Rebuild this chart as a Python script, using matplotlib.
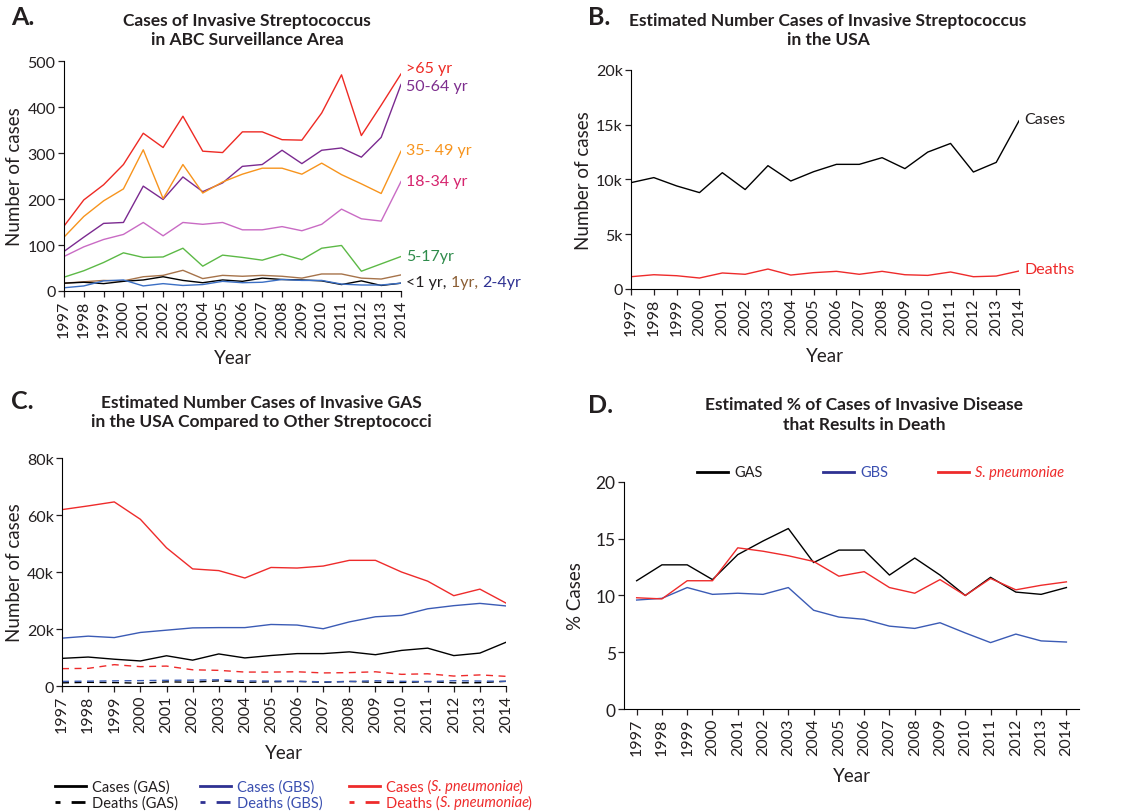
import matplotlib
matplotlib.use("Agg")
import matplotlib.pyplot as plt
from matplotlib.lines import Line2D

plt.rcParams['font.family'] = ['Lato', 'DejaVu Sans']

years = list(range(1997, 2015))

# ABC surveillance area cases by age group
age_65 = [141, 198, 231, 275, 343, 312, 380, 304, 301, 346, 346, 329, 328, 387, 470, 338, 404, 472]
age_50_64 = [86, 117, 147, 149, 228, 199, 248, 216, 235, 271, 275, 306, 277, 306, 311, 291, 334, 449]
age_35_49 = [117, 162, 196, 222, 307, 201, 275, 213, 237, 254, 267, 267, 254, 278, 253, 233, 212, 304]
age_18_34 = [75, 96, 112, 123, 149, 120, 149, 145, 149, 133, 133, 140, 131, 145, 178, 157, 152, 238]
age_5_17 = [30, 44, 62, 83, 73, 74, 93, 54, 78, 73, 67, 80, 68, 93, 99, 43, 59, 75]
age_lt1 = [17, 19, 16, 21, 24, 31, 23, 18, 24, 21, 28, 25, 24, 22, 14, 22, 12, 17]
age_1 = [17, 20, 23, 22, 31, 34, 45, 27, 34, 32, 34, 32, 28, 37, 37, 28, 26, 35]
age_2_4 = [7, 11, 22, 24, 11, 16, 12, 14, 21, 18, 19, 25, 23, 23, 15, 13, 13, 17]

# estimated national numbers (thousands)
gas_cases = [9.71, 10.17, 9.41, 8.80, 10.62, 9.08, 11.26, 9.86, 10.71, 11.38, 11.38, 11.99, 10.99, 12.50, 13.29, 10.68, 11.56, 15.36]
gas_deaths = [1.12, 1.30, 1.21, 1.00, 1.46, 1.34, 1.82, 1.27, 1.49, 1.61, 1.34, 1.61, 1.30, 1.24, 1.55, 1.12, 1.18, 1.64]
gbs_cases = [16.8, 17.5, 17.0, 18.8, 19.6, 20.4, 20.5, 20.5, 21.6, 21.4, 20.1, 22.5, 24.3, 24.8, 27.1, 28.2, 29.0, 28.1]
gbs_deaths = [1.63, 1.71, 1.82, 1.90, 2.00, 2.06, 2.19, 1.78, 1.75, 1.69, 1.47, 1.60, 1.85, 1.66, 1.57, 1.86, 1.74, 1.66]
spn_cases = [61.9, 63.2, 64.6, 58.5, 48.5, 41.1, 40.5, 37.9, 41.6, 41.4, 42.1, 44.1, 44.1, 40.0, 36.8, 31.7, 34.0, 29.1]
spn_deaths = [6.1, 6.2, 7.5, 6.8, 7.0, 5.7, 5.5, 4.9, 4.9, 5.0, 4.6, 4.7, 5.0, 4.1, 4.3, 3.5, 3.9, 3.4]

# case fatality (%)
gas_pct = [11.3, 12.7, 12.7, 11.4, 13.6, 14.8, 15.9, 12.9, 14.0, 14.0, 11.8, 13.3, 11.8, 10.0, 11.6, 10.3, 10.1, 10.7]
gbs_pct = [9.6, 9.75, 10.7, 10.1, 10.2, 10.1, 10.7, 8.7, 8.1, 7.9, 7.3, 7.1, 7.6, 6.7, 5.85, 6.6, 6.0, 5.9]
spn_pct = [9.8, 9.7, 11.3, 11.3, 14.2, 13.9, 13.5, 13.0, 11.7, 12.1, 10.7, 10.2, 11.4, 10.0, 11.5, 10.5, 10.9, 11.2]

RED = '#ee2b2b'
BLUE = '#3b5bb5'
LEG_BLUE = '#2e3192'
TXT_BLUE = '#3a4fb0'
LW = 1.0
TEXT = '#231f20'
W, H = 1128, 812


def style_axis(ax):
    ax.spines['top'].set_visible(False)
    ax.spines['right'].set_visible(False)
    ax.tick_params(direction='out', length=4, width=0.9, labelsize=11.5, colors=TEXT, pad=2)
    ax.set_xticks(years)
    ax.set_xticklabels([str(y) for y in years], rotation=90)
    ax.set_xlabel('Year', fontsize=13.5, color=TEXT, labelpad=9)


def k_fmt(v, pos):
    return '0' if v == 0 else '%dk' % (v / 1000)


fig = plt.figure(figsize=(11.28, 8.12), dpi=100)
renderer = fig.canvas.get_renderer()


def key_entry(x0, y, color, ls, text_color, parts):
    # one legend key: a short line and a label built from (text, style) pieces
    fy = 1 - y / H
    fig.add_artist(Line2D([x0 / W, (x0 + 31) / W], [fy, fy], color=color, lw=2, ls=ls,
                          transform=fig.transFigure))
    x = x0 + 37
    for s, style in parts:
        t = fig.text(x / W, 1 - (y + 4.5) / H, s, color=text_color, fontsize=10.5,
                     fontstyle=style, va='baseline', ha='left')
        x += t.get_window_extent(renderer=renderer).width - (1.5 if style == 'italic' else 0)


# ---- A ----
axA = fig.add_axes([0.0567, 0.6404, 0.2988, 0.2832])
series_a = [
    (age_65, '#ee2a24'), (age_50_64, '#7b2a90'), (age_35_49, '#f7941d'),
    (age_18_34, '#c96bc4'), (age_5_17, '#5cb946'), (age_1, '#a6734a'),
    (age_lt1, 'black'), (age_2_4, '#3b6fc4'),
]
for vals, c in series_a:
    axA.plot(years, vals, color=c, lw=LW)
axA.set_xlim(1997, 2014)
axA.set_ylim(0, 500)
axA.set_yticks([0, 100, 200, 300, 400, 500])
style_axis(axA)
axA.set_ylabel('Number of cases', fontsize=13.5, color=TEXT, labelpad=3)

end_labels = [
    ('>65 yr', 485, '#ee2a24'), ('50-64 yr', 446, '#7d2e8e'),
    ('35- 49 yr', 307, '#f7941d'), ('18-34 yr', 240, '#d6246e'),
    ('5-17yr', 77, '#2e8b4b'),
]
for txt, yv, c in end_labels:
    axA.text(2014.25, yv, txt, color=c, fontsize=11.5, va='center', clip_on=False)
t1 = axA.text(2014.25, 20, '<1 yr, ', color=TEXT, fontsize=11.5, va='center', clip_on=False)
t2 = axA.annotate('1yr, ', xy=(1, 0), xycoords=t1, va='bottom', color='#8b5e34', fontsize=11.5)
axA.annotate('2-4yr', xy=(1, 0), xycoords=t2, va='bottom', color=LEG_BLUE, fontsize=11.5)

# ---- B ----
axB = fig.add_axes([0.5594, 0.6429, 0.3440, 0.2697])
axB.plot(years, [v * 1000 for v in gas_cases], color='black', lw=LW)
axB.plot(years, [v * 1000 for v in gas_deaths], color=RED, lw=LW)
axB.set_xlim(1997, 2014)
axB.set_ylim(0, 20000)
axB.set_yticks([0, 5000, 10000, 15000, 20000])
axB.yaxis.set_major_formatter(plt.FuncFormatter(k_fmt))
style_axis(axB)
axB.set_ylabel('Number of cases', fontsize=13.5, color=TEXT, labelpad=3)
axB.text(2014.25, gas_cases[-1] * 1000 + 200, 'Cases', fontsize=11.5, color=TEXT, va='center', clip_on=False)
axB.text(2014.25, gas_deaths[-1] * 1000 + 200, 'Deaths', fontsize=11.5, color=RED, va='center', clip_on=False)

# ---- C ----
axC = fig.add_axes([0.0550, 0.1539, 0.3936, 0.2808])
dash = (0, (5, 4))
c_series = [
    (gas_cases, 'black', '-'), (gas_deaths, 'black', dash),
    (gbs_cases, BLUE, '-'), (gbs_deaths, BLUE, dash),
    (spn_cases, RED, '-'), (spn_deaths, RED, dash),
]
for vals, c, ls in c_series:
    axC.plot(years, [v * 1000 for v in vals], color=c, ls=ls, lw=LW)
axC.set_xlim(1997, 2014)
axC.set_ylim(0, 80000)
axC.set_yticks([0, 20000, 40000, 60000, 80000])
axC.yaxis.set_major_formatter(plt.FuncFormatter(k_fmt))
style_axis(axC)
axC.set_ylabel('Number of cases', fontsize=13.5, color=TEXT, labelpad=3)

key_dash = (0, (1.8, 4.0, 5.0, 10))
key_entry(55, 787, 'black', '-', TEXT, [('Cases (GAS)', 'normal')])
key_entry(55, 803, 'black', key_dash, TEXT, [('Deaths (GAS)', 'normal')])
key_entry(200, 787, LEG_BLUE, '-', TXT_BLUE, [('Cases (GBS)', 'normal')])
key_entry(200, 803, LEG_BLUE, key_dash, TXT_BLUE, [('Deaths (GBS)', 'normal')])
key_entry(349, 787, RED, '-', RED, [('Cases (', 'normal'), ('S. pneumoniae', 'italic'), (')', 'normal')])
key_entry(349, 803, RED, key_dash, RED, [('Deaths (', 'normal'), ('S. pneumoniae', 'italic'), (')', 'normal')])

# ---- D ----
axD = fig.add_axes([0.5532, 0.1256, 0.4034, 0.2796])
d_series = [(gas_pct, 'black'), (gbs_pct, BLUE), (spn_pct, RED)]
for vals, c in d_series:
    axD.plot(years, vals, color=c, lw=LW)
axD.set_xlim(1996.5, 2014.5)
axD.set_ylim(0, 20)
axD.set_yticks([0, 5, 10, 15, 20])
style_axis(axD)
axD.tick_params(axis='y', labelsize=12.5)
axD.set_ylabel('% Cases', fontsize=13.5, color=TEXT, labelpad=8)

key_entry(697, 473, 'black', '-', TEXT, [('GAS', 'normal')])
key_entry(823, 473, LEG_BLUE, '-', TXT_BLUE, [('GBS', 'normal')])
key_entry(938, 473, RED, '-', RED, [('S. pneumoniae', 'italic')])

# panel titles and letters
title_kw = dict(ha='center', va='center', fontsize=12.5, fontweight='bold', color=TEXT, linespacing=1.25)
fig.text(0.219, 0.962, 'Cases of Invasive Streptococcus\nin ABC Surveillance Area', **title_kw)
fig.text(0.734, 0.962, 'Estimated Number Cases of Invasive Streptococcus\nin the USA', **title_kw)
fig.text(0.232, 0.492, 'Estimated Number Cases of Invasive GAS\nin the USA Compared to Other Streptococci', **title_kw)
fig.text(0.766, 0.489, 'Estimated % of Cases of Invasive Disease\nthat Results in Death', **title_kw)

letter_kw = dict(ha='left', va='center', fontsize=18, fontweight='bold', color=TEXT)
fig.text(0.010, 0.978, 'A.', **letter_kw)
fig.text(0.521, 0.978, 'B.', **letter_kw)
fig.text(0.010, 0.505, 'C.', **letter_kw)
fig.text(0.521, 0.501, 'D.', **letter_kw)

fig.savefig('out.png', dpi=100)
